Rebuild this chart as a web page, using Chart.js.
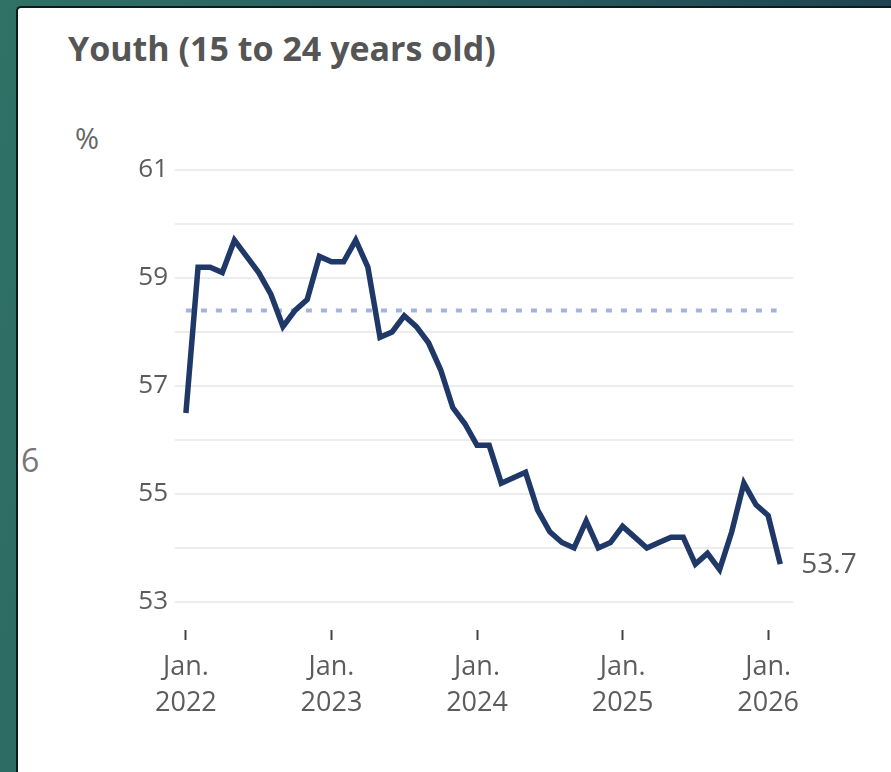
<!DOCTYPE html>
<html>
<head>
<meta charset="utf-8">
<script src="https://cdn.jsdelivr.net/npm/chart.js@4.4.1/dist/chart.umd.min.js"></script>
<style>
  html, body { margin: 0; padding: 0; }
  body {
    width: 891px; height: 772px; overflow: hidden; position: relative;
    background: linear-gradient(100deg, #2f7266 0%, #27585d 55%, #1b3a4a 100%);
    font-family: "Open Sans", sans-serif;
  }
  #panel {
    position: absolute; left: 16px; top: 6px; width: 900px; height: 800px;
    background: #fff; border-left: 2px solid #0f1a1c; border-top: 2px solid #0f1a1c;
    border-top-left-radius: 5px;
  }
  .txt { position: absolute; white-space: nowrap; line-height: 1; }
  #title { left: 68px; top: 31px; font-size: 34px; font-weight: 700; color: #555; }
  #unit { left: 75px; top: 123px; font-size: 29px; color: #666; }
  #stray { left: 21px; top: 444px; font-size: 32px; color: #777; }
  #wrap { position: absolute; left: 0; top: 0; width: 891px; height: 772px; }
</style>
</head>
<body>
<div id="panel"></div>
<div class="txt" id="title">Youth (15 to 24 years old)</div>
<div class="txt" id="unit">%</div>
<div class="txt" id="stray">6</div>
<div id="wrap"><canvas id="youth-chart" width="891" height="772"></canvas></div>
<script>
// Monthly youth rate, Jan. 2022 to Feb. 2026 (%)
const startYear = 2022;
const youthRate = [
  56.5, 59.2, 59.2, 59.1, 59.7, 59.4, 59.1, 58.7, 58.1, 58.4, 58.6, 59.4,
  59.3, 59.3, 59.7, 59.2, 57.9, 58.0, 58.3, 58.1, 57.8, 57.3, 56.6, 56.3,
  55.9, 55.9, 55.2, 55.3, 55.4, 54.7, 54.3, 54.1, 54.0, 54.5, 54.0, 54.1,
  54.4, 54.2, 54.0, 54.1, 54.2, 54.2, 53.7, 53.9, 53.6, 54.3, 55.2, 54.8,
  54.6, 53.7
];
const referenceValue = 58.4;

// Tick labels
const yearLabels = ["2022", "2023", "2024", "2025", "2026"];
const monthLabel = "Jan.";
const yGridValues = [53, 54, 55, 56, 57, 58, 59, 60, 61];
const yLabelValues = [53, 55, 57, 59, 61];

const lineColor = "#1f3867";
const textColor = "#5c5c5c";

// End-of-line value label
const endLabel = {
  id: "endLabel",
  afterDatasetsDraw(chart) {
    const meta = chart.getDatasetMeta(0);
    const pt = meta.data[meta.data.length - 1];
    const ctx = chart.ctx;
    ctx.save();
    ctx.font = '28px "Open Sans"';
    ctx.fillStyle = textColor;
    ctx.textBaseline = "middle";
    ctx.textAlign = "left";
    ctx.fillText(youthRate[youthRate.length - 1].toFixed(1), pt.x + 21, pt.y + 1);
    ctx.restore();
  },
};

const ctx = document.getElementById("youth-chart").getContext("2d");
new Chart(ctx, {
  type: "line",
  data: {
    datasets: [
      {
        label: "Youth",
        data: youthRate.map((v, i) => ({ x: i, y: v })),
        borderColor: lineColor,
        borderWidth: 5.5,
        pointRadius: 0,
        tension: 0,
        borderJoinStyle: "miter",
        order: 0,
      },
      {
        label: "Reference",
        data: [
          { x: 0, y: referenceValue },
          { x: 48.7, y: referenceValue },
        ],
        borderColor: "#a3b3e0",
        borderWidth: 4,
        borderDash: [6, 9],
        pointRadius: 0,
        order: 1,
      },
    ],
  },
  options: {
    responsive: false,
    animation: false,
    events: [],
    layout: { padding: { left: 0, right: 98, top: 170, bottom: 32 } },
    plugins: { legend: { display: false }, tooltip: { enabled: false } },
    scales: {
      x: {
        type: "linear",
        min: -0.9,
        max: 50.05,
        afterBuildTicks: (axis) => {
          axis.ticks = yearLabels.map((_, i) => ({ value: i * 12 }));
        },
        afterFit: (axis) => { axis.height = 110; },
        border: { display: false },
        grid: {
          drawOnChartArea: false,
          drawTicks: true,
          tickLength: 10,
          tickWidth: 2,
          tickColor: "#444",
        },
        ticks: {
          padding: 9,
          color: textColor,
          font: { family: "Open Sans", size: 27, lineHeight: "36px" },
          maxRotation: 0,
          autoSkip: false,
          callback: (v) => [monthLabel, yearLabels[Math.round(v / 12)]],
        },
      },
      y: {
        min: 52.48,
        max: 61,
        afterBuildTicks: (axis) => {
          axis.ticks = yGridValues.map((v) => ({ value: v }));
        },
        afterFit: (axis) => { axis.width = 175; },
        border: { display: false },
        grid: { color: "#ececec", lineWidth: 2, drawTicks: false },
        ticks: {
          padding: 7,
          color: textColor,
          font: { family: "Open Sans", size: 26 },
          callback: (v) => (yLabelValues.includes(v) ? String(v) : ""),
        },
      },
    },
  },
  plugins: [endLabel],
});
</script>
</body>
</html>
